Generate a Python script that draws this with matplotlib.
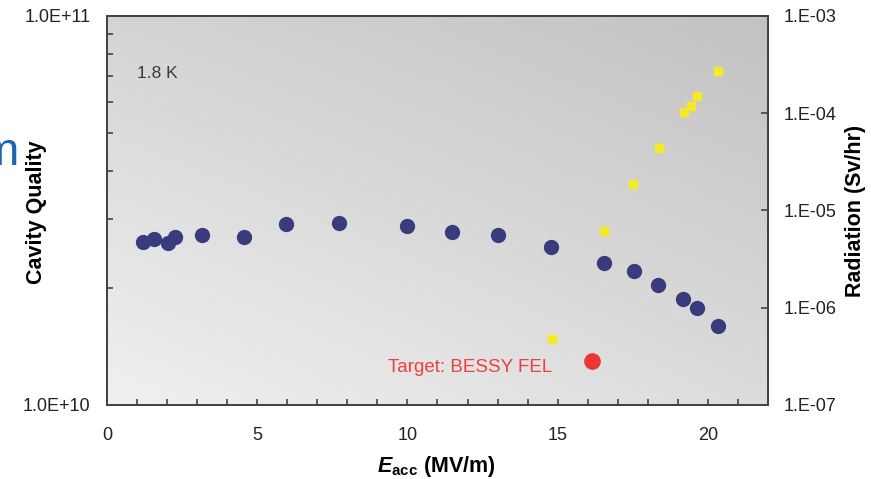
import numpy as np
import matplotlib.pyplot as plt
from matplotlib.ticker import FixedLocator, NullFormatter, NullLocator

plt.rcParams['font.family'] = ['Liberation Sans', 'DejaVu Sans']
plt.rcParams['mathtext.fontset'] = 'custom'
plt.rcParams['mathtext.rm'] = 'Liberation Sans'
plt.rcParams['mathtext.bf'] = 'Liberation Sans:bold'
plt.rcParams['mathtext.it'] = 'Liberation Sans:italic'
plt.rcParams['mathtext.bfit'] = 'Liberation Sans:bold:italic'

# quality factor vs accelerating gradient at 1.8 K
e_acc = [1.2, 1.55, 2.03, 2.27, 3.17, 4.57, 5.97, 7.73, 9.97, 11.47, 13.0,
         14.77, 16.53, 17.53, 18.33, 19.17, 19.63, 20.33]
q0 = [2.62e10, 2.67e10, 2.61e10, 2.70e10, 2.74e10, 2.70e10, 2.92e10, 2.94e10,
      2.89e10, 2.78e10, 2.74e10, 2.55e10, 2.32e10, 2.21e10, 2.03e10, 1.87e10,
      1.78e10, 1.60e10]

# field emission radiation
e_rad = [14.8, 16.53, 17.5, 18.37, 19.2, 19.43, 19.63, 20.33]
radiation = [4.77e-7, 6.15e-6, 1.87e-5, 4.39e-5, 1.03e-4, 1.19e-4, 1.50e-4, 2.72e-4]

# BESSY FEL design point
target_e = [16.13]
target_q = [1.30e10]

x_major = [0, 5, 10, 15, 20]
q_labels = ['1.0E+10', '1.0E+11']
rad_decades = [1e-7, 1e-6, 1e-5, 1e-4, 1e-3]
rad_labels = ['1.E-07', '1.E-06', '1.E-05', '1.E-04', '1.E-03']

fig = plt.figure(figsize=(8.71, 4.79), dpi=100)
ax = fig.add_axes([0.1228, 0.1545, 0.7589, 0.8121])

# grey shaded plot area, light at lower left, darker at upper right
u = np.linspace(0, 1, 200)
w = np.linspace(0, 1, 200)
U, W = np.meshgrid(u, w)
bl, br, tl, tr = 0.94, 0.86, 0.83, 0.76
shade = bl * (1 - U) * (1 - W) + br * U * (1 - W) + tl * (1 - U) * W + tr * U * W
ax.imshow(shade, cmap='gray', vmin=0, vmax=1, origin='lower', extent=[0, 1, 0, 1],
          transform=ax.transAxes, aspect='auto', zorder=0, interpolation='bilinear')

ax.set_yscale('log')
ax.set_xlim(0, 22)
ax.set_ylim(1e10, 1e11)

ax.plot(e_acc, q0, 'o', color='#383c7c', markersize=10, zorder=3)
ax.plot(target_e, target_q, 'o', color='#ee3535', markersize=11, zorder=3)

ax.xaxis.set_major_locator(FixedLocator(x_major))
ax.xaxis.set_minor_locator(FixedLocator(np.arange(0, 22)))
ax.set_xticklabels([str(v) for v in x_major])
ax.yaxis.set_major_locator(FixedLocator([1e10, 1e11]))
ax.yaxis.set_minor_locator(FixedLocator([k * 1e10 for k in range(2, 10)]))
ax.yaxis.set_minor_formatter(NullFormatter())
ax.set_yticklabels(q_labels)

for sp in ax.spines.values():
    sp.set_color('#444444')
    sp.set_linewidth(1.4)
    sp.set_zorder(5)

ax.tick_params(axis='x', which='both', direction='in', length=4, width=1.2,
               color='#444444', labelsize=13, pad=16, labelcolor='#222222', top=False)
ax.tick_params(axis='y', which='both', direction='in', length=4, width=1.2,
               color='#444444', labelsize=13, pad=12, labelcolor='#222222')

ax.text(0.045, 0.853, '1.8 K', transform=ax.transAxes, fontsize=12.5,
        color='#3a3a3a', va='center', ha='left')
ax.text(9.37, 1.25e10, 'Target: BESSY FEL', fontsize=13.5, color='#ee4040',
        va='center', ha='left')

ax.set_xlabel(r'$\mathbfit{E}_{\mathbf{acc}}$ (MV/m)', fontsize=15.5, fontweight='bold')
ax.xaxis.set_label_coords(0.499, -0.127)
ax.set_ylabel('Cavity Quality', fontsize=15.5, fontweight='bold')
ax.yaxis.set_label_coords(-0.091, 0.496)

ax2 = ax.twinx()
ax2.set_yscale('log')
ax2.set_ylim(1e-7, 1e-3)
ax2.plot(e_rad, radiation, 's', color='#f5ea2a', markersize=6, zorder=3)
ax2.yaxis.set_major_locator(FixedLocator(rad_decades))
ax2.yaxis.set_minor_locator(NullLocator())
ax2.set_yticklabels(rad_labels)
for sp in ax2.spines.values():
    sp.set_color('#444444')
    sp.set_linewidth(1.4)
ax2.tick_params(axis='y', direction='in', length=5, width=1.2, color='#444444',
                labelsize=13, pad=11, labelcolor='#222222')
ax2.set_ylabel('Radiation (Sv/hr)', fontsize=15.5, fontweight='bold')
ax2.yaxis.set_label_coords(1.116, 0.5)

# slide title fragment at the left edge
fig.text(19 / 871, 1 - 153 / 479, 'm', fontsize=34, color='#1a66b0',
         ha='right', va='center')

fig.savefig('out.png', dpi=100)
